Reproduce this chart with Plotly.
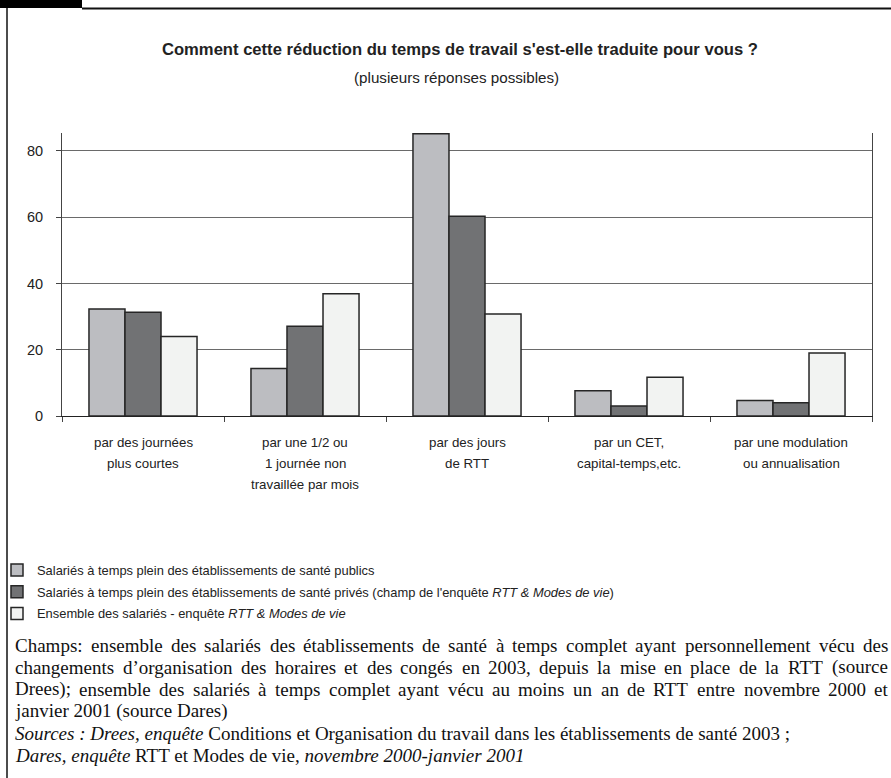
import plotly.graph_objects as go

# ---------------- data ----------------
categories = [
    "par des journées<br>plus courtes",
    "par une 1/2 ou<br>1 journée non<br>travaillée par mois",
    "par des jours<br>de RTT",
    "par un CET,<br>capital-temps,etc.",
    "par une modulation<br>ou annualisation",
]
series_names = [
    "Salariés à temps plein des établissements de santé publics",
    "Salariés à temps plein des établissements de santé privés (champ de l'enquête <i>RTT & Modes de vie</i>)",
    "Ensemble des salariés - enquête <i>RTT & Modes de vie</i>",
]
publics = [32.3, 14.3, 85.2, 7.6, 4.7]
prives = [31.3, 27.1, 60.3, 3.0, 4.0]
ensemble = [24.0, 36.9, 30.8, 11.7, 19.0]
y_ticks = [0, 20, 40, 60, 80]

title_text = "<b>Comment cette réduction du temps de travail s'est-elle traduite pour vous ?</b>"
subtitle_text = "(plusieurs réponses possibles)"
notes_justified = [
    "Champs: ensemble des salariés des établissements de santé à temps complet ayant personnellement vécu des",
    "changements d’organisation des horaires et des congés en 2003, depuis la mise en place de la RTT (source",
    "Drees); ensemble des salariés à temps complet ayant vécu au moins un an de RTT entre novembre 2000 et",
]
notes_plain = [
    "janvier 2001 (source Dares)",
    "<i>Sources : Drees, enquête</i> Conditions et Organisation du travail dans les établissements de santé 2003 ;",
    "<i>Dares, enquête</i> RTT et Modes de vie, <i>novembre 2000-janvier 2001</i>",
]

# ---------------- style ----------------
W, H = 891, 778
L, R, T, B = 62, 19, 133, 362
PW, PH = W - L - R, H - T - B
SANS = "Liberation Sans, Arial, sans-serif"
SERIF = "Liberation Serif, Times New Roman, serif"
colors = ["#bcbdc1", "#717274", "#f2f3f2"]
edge = "#262626"
NOTE_SIZE = 19
NOTE_LEFT, NOTE_RIGHT = 13, 886

# Times New Roman advance widths (1/1000 em), used to justify the note lines
TIMES_W = {
    " ": 250, "a": 444, "b": 500, "c": 444, "d": 500, "e": 444, "f": 333, "g": 500, "h": 500,
    "i": 278, "j": 278, "k": 500, "l": 278, "m": 778, "n": 500, "o": 500, "p": 500, "q": 500,
    "r": 333, "s": 389, "t": 278, "u": 500, "v": 500, "w": 722, "x": 500, "y": 500, "z": 444,
    "é": 444, "è": 444, "à": 444, "ê": 444, "ç": 444, "ô": 500,
    "C": 667, "D": 722, "R": 667, "T": 611, "S": 556,
    ":": 278, ";": 278, ",": 250, ".": 250, "(": 333, ")": 333, "’": 333, "-": 333,
}


def text_w(s, size):
    return sum(TIMES_W.get(ch, 500) for ch in s) * size / 1000.0


def px_x(px):
    return (px - L) / PW


def px_y(py):
    return (H - B - py) / PH


fig = go.Figure()
for name, vals, col in zip(series_names, [publics, prives, ensemble], colors):
    fig.add_trace(go.Bar(
        x=categories, y=vals, name=name, legendgroup=name,
        marker=dict(color=col, line=dict(color=edge, width=1.5)),
    ))

annotations = []
# category labels
for cat in categories:
    for i, line in enumerate(cat.split("<br>")):
        annotations.append(dict(
            x=cat, y=0, xref="x", yref="y", text=line, showarrow=False,
            yanchor="middle", xanchor="center", yshift=-(26 + 21 * i),
            font=dict(family=SANS, size=13.3, color="#222"),
        ))
# title & subtitle
annotations.append(dict(x=px_x(460), y=px_y(50), xref="paper", yref="paper", text=title_text,
                        showarrow=False, xanchor="center", yanchor="middle",
                        font=dict(family=SANS, size=16.6, color="#222")))
annotations.append(dict(x=px_x(456), y=px_y(78), xref="paper", yref="paper", text=subtitle_text,
                        showarrow=False, xanchor="center", yanchor="middle",
                        font=dict(family=SANS, size=15.2, color="#222")))
# notes: justified lines (word by word)
note_y = [645, 667, 689, 711, 733, 755]
for txt, yy in zip(notes_justified, note_y[:3]):
    words = txt.split(" ")
    widths = [text_w(wd, NOTE_SIZE) for wd in words]
    gap = (NOTE_RIGHT - NOTE_LEFT - sum(widths)) / (len(words) - 1)
    xpos = NOTE_LEFT
    for wd, ww in zip(words, widths):
        annotations.append(dict(x=px_x(xpos), y=px_y(yy), xref="paper", yref="paper", text=wd,
                                showarrow=False, xanchor="left", yanchor="middle",
                                font=dict(family=SERIF, size=NOTE_SIZE, color="#111")))
        xpos += ww + gap
for txt, yy in zip(notes_plain, note_y[3:]):
    annotations.append(dict(x=px_x(NOTE_LEFT), y=px_y(yy), xref="paper", yref="paper", text=txt,
                            showarrow=False, xanchor="left", yanchor="middle", align="left",
                            font=dict(family=SERIF, size=NOTE_SIZE, color="#111")))

shapes = [
    dict(type="rect", xref="paper", yref="paper", x0=px_x(0), x1=px_x(82), y0=px_y(0), y1=px_y(8),
         fillcolor="black", line=dict(width=0)),
    dict(type="line", xref="paper", yref="paper", x0=px_x(82), x1=px_x(891), y0=px_y(8.5), y1=px_y(8.5),
         line=dict(color="#111", width=2)),
    dict(type="line", xref="paper", yref="paper", x0=px_x(7), x1=px_x(7), y0=px_y(8), y1=px_y(778),
         line=dict(color="#111", width=1.5)),
]

fig.update_layout(
    width=W, height=H, margin=dict(l=L, r=R, t=T, b=B, autoexpand=False),
    paper_bgcolor="white", plot_bgcolor="white",
    barmode="group", bargap=0.333, bargroupgap=0,
    showlegend=True,
    legend=dict(x=px_x(-3), y=px_y(555), xanchor="left", yanchor="top", tracegroupgap=2,
                font=dict(family=SANS, size=12.9, color="#222"), bgcolor="rgba(0,0,0,0)"),
    annotations=annotations, shapes=shapes,
    xaxis=dict(showline=True, linecolor="#222", linewidth=1, showticklabels=False,
               ticks="outside", tickson="boundaries", ticklen=5, tickcolor="#444",
               showgrid=False, zeroline=False, fixedrange=True),
    yaxis=dict(range=[0, 85.4], tickvals=y_ticks, showline=True, mirror=True, linecolor="#444",
               linewidth=1, ticks="outside", ticklen=5, tickcolor="#444",
               gridcolor="#6a6a6a", gridwidth=1, zeroline=False, ticklabelstandoff=10,
               fixedrange=True, tickfont=dict(family=SANS, size=14.5, color="#222")),
)

fig.write_html("out.html", config={"displayModeBar": False},
               post_script="document.body.style.margin='0px';")
